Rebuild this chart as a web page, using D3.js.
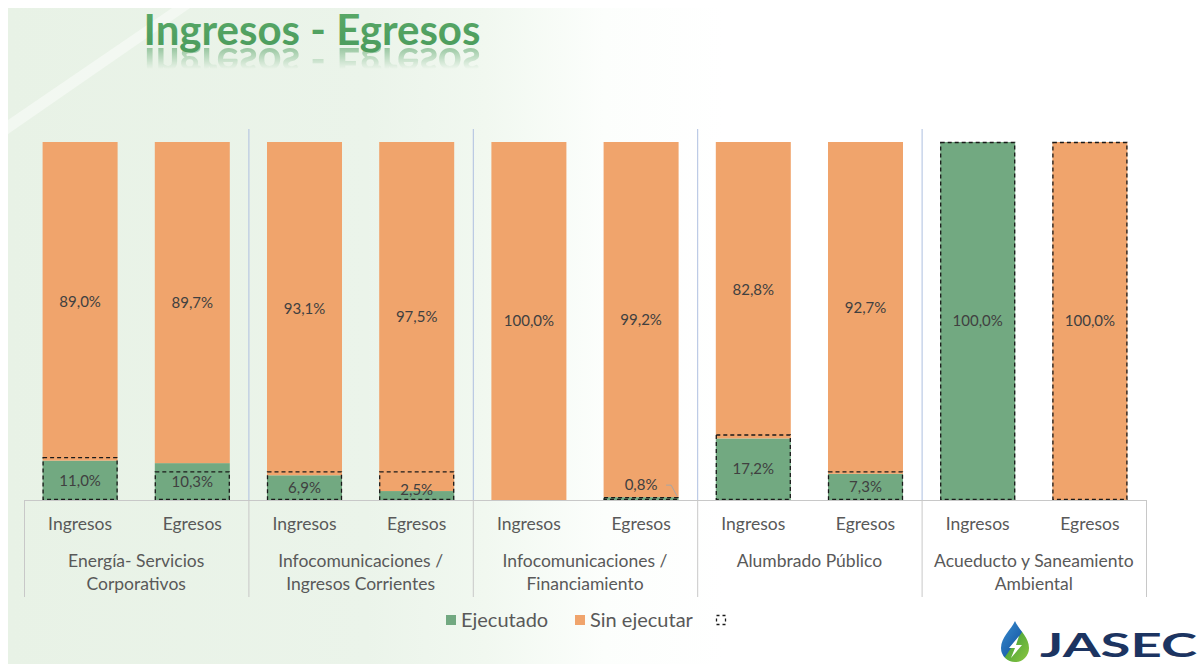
<!DOCTYPE html>
<html>
<head>
<meta charset="utf-8">
<script src="https://cdn.jsdelivr.net/npm/d3@7/dist/d3.min.js"></script>
<style>
  html, body { margin: 0; padding: 0; background: #ffffff; }
  svg { display: block; }
  text { font-family: Lato, "Open Sans", sans-serif; }
</style>
</head>
<body>
<svg id="chart" width="1201" height="664"></svg>
<script>
// ---- Datos ----
const grupos = [
  ["Energía- Servicios", "Corporativos"],
  ["Infocomunicaciones /", "Ingresos Corrientes"],
  ["Infocomunicaciones /", "Financiamiento"],
  ["Alumbrado Público"],
  ["Acueducto y Saneamiento", "Ambiental"]
];
const tipos = ["Ingresos", "Egresos"];
// porcentajes por barra, en orden grupo → tipo
const ejecutado   = [11.0, 10.3, 6.9, 2.5, 0, 0.8, 17.2, 7.3, 100, 0];
const sinEjecutar = [89.0, 89.7, 93.1, 97.5, 100, 99.2, 82.8, 92.7, 0, 100];
// serie de contorno punteado (tercera entrada de la leyenda)
const marco       = [12.0, 8.0, 8.0, 8.0, 0, 0.8, 18.3, 8.0, 100, 100];
const leyenda = ["Ejecutado", "Sin ejecutar", ""];
const titulo = "Ingresos - Egresos";

const verde = "#72a981";
const naranja = "#f0a46c";

const svg = d3.select("#chart");
const W = 1201, H = 664;
const defs = svg.append("defs");

// ---- Fondo ----
const bg = defs.append("linearGradient").attr("id", "bgGrad")
  .attr("x1", 0).attr("y1", 0).attr("x2", 1).attr("y2", 0);
bg.append("stop").attr("offset", "0%").attr("stop-color", "#e8f2e6");
bg.append("stop").attr("offset", "30%").attr("stop-color", "#ebf4ea");
bg.append("stop").attr("offset", "40%").attr("stop-color", "#f1f8f0");
bg.append("stop").attr("offset", "50%").attr("stop-color", "#fcfefc");
bg.append("stop").attr("offset", "60%").attr("stop-color", "#ffffff");

svg.append("rect").attr("width", W).attr("height", H).attr("fill", "#ffffff");
svg.append("rect").attr("x", 8).attr("y", 8).attr("width", W - 8).attr("height", H - 8)
  .attr("fill", "url(#bgGrad)");
// franja diagonal clara
svg.append("path")
  .attr("d", "M8,120 L8,134 L190,8 L172,8 Z")
  .attr("fill", "#ffffff").attr("opacity", 0.45);

// ---- Título con reflejo ----
const tg = defs.append("linearGradient").attr("id", "titleGrad")
  .attr("x1", 0).attr("y1", 0).attr("x2", 0).attr("y2", 1);
tg.append("stop").attr("offset", "0%").attr("stop-color", "#5bab6a");
tg.append("stop").attr("offset", "100%").attr("stop-color", "#4a9a5b");

const titleX = 312, titleBase = 45;

// máscara que desvanece el reflejo hacia abajo
const mg = defs.append("linearGradient").attr("id", "reflFade")
  .attr("gradientUnits", "userSpaceOnUse")
  .attr("x1", 0).attr("y1", titleBase + 2).attr("x2", 0).attr("y2", titleBase + 24);
mg.append("stop").attr("offset", "0%").attr("stop-color", "#ffffff").attr("stop-opacity", 0.55);
mg.append("stop").attr("offset", "100%").attr("stop-color", "#ffffff").attr("stop-opacity", 0);
defs.append("mask").attr("id", "reflMask")
  .attr("maskUnits", "userSpaceOnUse")
  .attr("x", 0).attr("y", 0).attr("width", W).attr("height", 120)
  .append("rect")
  .attr("x", 0).attr("y", titleBase + 1).attr("width", W).attr("height", 30)
  .attr("fill", "url(#reflFade)");

svg.append("text")
  .attr("id", "tituloTexto")
  .attr("x", titleX).attr("y", titleBase)
  .attr("text-anchor", "middle")
  .attr("font-size", 42).attr("font-weight", 700)
  .attr("fill", "url(#titleGrad)")
  .text(titulo);
svg.append("g").attr("mask", "url(#reflMask)")
  .append("use")
  .attr("href", "#tituloTexto")
  .attr("transform", `translate(0,${2 * titleBase + 3}) scale(1,-1)`);

// ---- Escalas ----
const plotLeft = 24, plotRight = 1146, plotTop = 142, plotBase = 500;
const filas = [];
grupos.forEach((g, gi) => tipos.forEach((t, ti) => {
  const i = gi * tipos.length + ti;
  filas.push({ gi, tipo: t, ej: ejecutado[i], sin: sinEjecutar[i], marco: marco[i] });
}));

const x0 = d3.scaleBand().domain(d3.range(grupos.length)).range([plotLeft, plotRight]);
const x1 = d3.scaleBand().domain(tipos).range([0, x0.bandwidth()])
  .paddingInner(0.3316).paddingOuter(0.1658);
const y = d3.scaleLinear().domain([0, 100]).range([plotBase, plotTop]);

const fmt = v => d3.format(".1f")(v).replace(".", ",") + "%";

// líneas verticales azules entre grupos
svg.append("g").selectAll("line")
  .data(d3.range(1, grupos.length))
  .join("line")
  .attr("x1", d => x0(d) + 0.5).attr("x2", d => x0(d) + 0.5)
  .attr("y1", 129).attr("y2", plotBase)
  .attr("stroke", "#aebfe0").attr("stroke-width", 1);

// ---- Barras ----
const barras = svg.append("g");
const bx = d => x0(d.gi) + x1(d.tipo);
const bw = x1.bandwidth();

barras.selectAll("rect.ej").data(filas.filter(d => d.ej > 0)).join("rect")
  .attr("class", "ej")
  .attr("x", bx).attr("width", bw)
  .attr("y", d => y(d.ej)).attr("height", d => y(0) - y(d.ej))
  .attr("fill", verde);

barras.selectAll("rect.sin").data(filas.filter(d => d.sin > 0)).join("rect")
  .attr("class", "sin")
  .attr("x", bx).attr("width", bw)
  .attr("y", d => y(d.ej + d.sin)).attr("height", d => y(d.ej) - y(d.ej + d.sin))
  .attr("fill", naranja);

barras.selectAll("rect.marco").data(filas.filter(d => d.marco > 0)).join("rect")
  .attr("class", "marco")
  .attr("x", d => bx(d) + 0.5).attr("width", bw - 1)
  .attr("y", d => y(d.marco) + 0.5).attr("height", d => Math.max(0, y(0) - y(d.marco) - 1))
  .attr("fill", "none")
  .attr("stroke", "#1a1a1a").attr("stroke-width", 1.3)
  .attr("stroke-dasharray", "4,3");

// ---- Etiquetas de valores ----
const etiquetas = svg.append("g")
  .attr("font-size", 15).attr("fill", "#404040").attr("text-anchor", "middle");

filas.forEach(d => {
  const cx = bx(d) + bw / 2;
  if (d.ej > 0) {
    if (y(0) - y(d.ej) < 8) {
      // valor pequeño: etiqueta encima con línea guía
      const ly = y(d.ej) - 12;
      etiquetas.append("text").attr("x", cx).attr("y", ly).attr("dy", "0.35em").text(fmt(d.ej));
      svg.append("path")
        .attr("d", `M${cx + 25},${ly} L${cx + 30},${ly} L${cx + 36},${y(d.ej) - 1}`)
        .attr("fill", "none").attr("stroke", "#a6a6a6").attr("stroke-width", 1);
    } else {
      const cy = Math.min((y(0) + y(d.ej)) / 2, plotBase - 10);
      etiquetas.append("text").attr("x", cx).attr("y", cy).attr("dy", "0.35em").text(fmt(d.ej));
    }
  }
  if (d.sin > 0) {
    const cy = (y(d.ej) + y(d.ej + d.sin)) / 2;
    etiquetas.append("text").attr("x", cx).attr("y", cy).attr("dy", "0.35em").text(fmt(d.sin));
  }
});

// ---- Eje de categorías ----
const eje = svg.append("g").attr("stroke", "#c8c8c8").attr("stroke-width", 1);
eje.append("line").attr("x1", plotLeft).attr("x2", plotRight).attr("y1", plotBase + 0.5).attr("y2", plotBase + 0.5);
eje.selectAll("line.sep").data(d3.range(grupos.length + 1)).join("line")
  .attr("class", "sep")
  .attr("x1", d => (d < grupos.length ? x0(d) : plotRight) + 0.5)
  .attr("x2", d => (d < grupos.length ? x0(d) : plotRight) + 0.5)
  .attr("y1", plotBase).attr("y2", 597);

const textos = svg.append("g").attr("fill", "#595959").attr("font-size", 17.5).attr("text-anchor", "middle");
textos.selectAll("text.tipo").data(filas).join("text")
  .attr("class", "tipo")
  .attr("x", d => bx(d) + bw / 2).attr("y", 524).attr("dy", "0.35em")
  .text(d => d.tipo);
grupos.forEach((lineas, gi) => {
  lineas.forEach((ln, li) => {
    textos.append("text")
      .attr("x", x0(gi) + x0.bandwidth() / 2)
      .attr("y", 561 + li * 23).attr("dy", "0.35em")
      .text(ln);
  });
});

// ---- Leyenda ----
const leg = svg.append("g").attr("font-size", 20).attr("fill", "#595959");
const legX = [446, 575, 716];
leyenda.forEach((nombre, i) => {
  const g = leg.append("g").attr("transform", `translate(${legX[i]},615)`);
  if (i < 2) {
    g.append("rect").attr("width", 10).attr("height", 10).attr("fill", i === 0 ? verde : naranja);
  } else {
    g.append("rect").attr("x", 0.5).attr("y", 0.5).attr("width", 9).attr("height", 9)
      .attr("fill", "none").attr("stroke", "#1a1a1a").attr("stroke-width", 1.3)
      .attr("stroke-dasharray", "3,3");
  }
  if (nombre) g.append("text").attr("x", 15).attr("y", 5).attr("dy", "0.35em").text(nombre);
});

// ---- Logotipo JASEC ----
const lg = defs.append("linearGradient").attr("id", "gota")
  .attr("x1", 0).attr("y1", 0).attr("x2", 1).attr("y2", 1);
lg.append("stop").attr("offset", "0%").attr("stop-color", "#3b8fd0");
lg.append("stop").attr("offset", "50%").attr("stop-color", "#1f66b0");
lg.append("stop").attr("offset", "52%").attr("stop-color", "#5aac3c");
lg.append("stop").attr("offset", "100%").attr("stop-color", "#8cc63f");

const logo = svg.append("g");
logo.append("path")
  .attr("d", "M1015,621 C1011,630 1001,637 1001,648 A14,14 0 0 0 1029,648 C1029,637 1019,630 1015,621 Z")
  .attr("fill", "url(#gota)");
logo.append("path")
  .attr("d", "M1019,636 L1009,648 L1015,648 L1011,658 L1022,645 L1016,645 Z")
  .attr("fill", "#ffffff");
logo.append("text")
  .attr("x", 1040).attr("y", 657)
  .attr("font-family", "'Liberation Sans', Arial, sans-serif")
  .attr("font-weight", 700).attr("font-size", 33)
  .attr("textLength", 157).attr("lengthAdjust", "spacingAndGlyphs")
  .attr("fill", "#1c3461")
  .text("JASEC");
</script>
</body>
</html>
